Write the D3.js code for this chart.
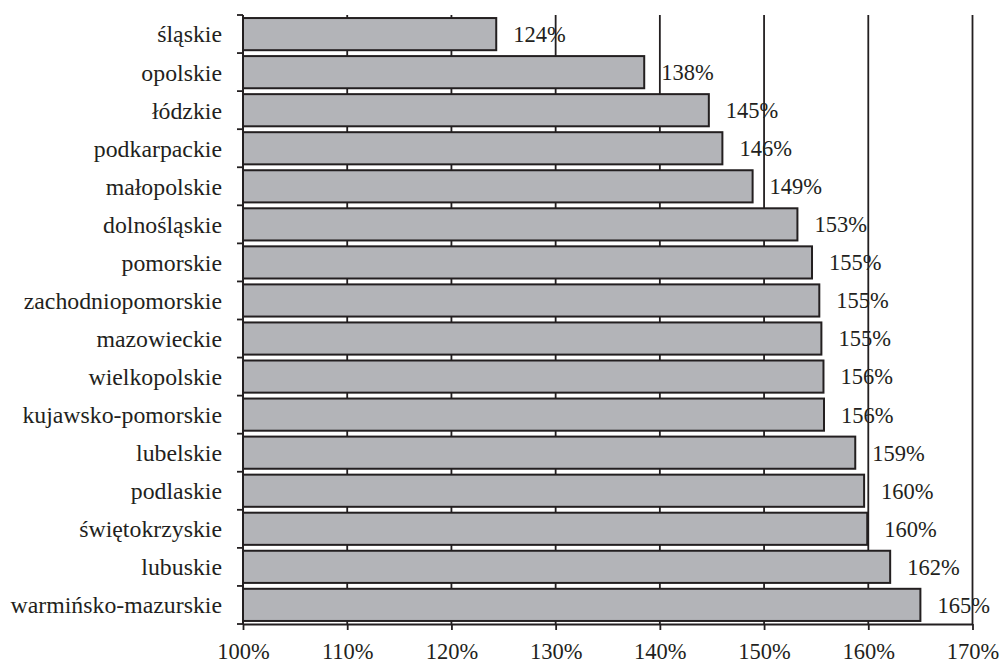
<!DOCTYPE html>
<html lang="pl">
<head>
<meta charset="UTF-8">
<title>Bar chart</title>
<style>
  body { margin: 0; background: #fff; }
  svg text { font-family: "Liberation Serif", "Times New Roman", serif; fill: #231f20; }
  .axis path, .axis line { stroke: #231f20; stroke-width: 1.8; }
  .grid line { stroke: #231f20; stroke-width: 1.8; }
  .bar { fill: #b3b4b8; stroke: #231f20; stroke-width: 2; }
</style>
<script src="https://d3js.org/d3.v7.min.js"></script>
</head>
<body>
<script>
  // regions, top to bottom
  const regions = ["śląskie", "opolskie", "łódzkie", "podkarpackie", "małopolskie",
    "dolnośląskie", "pomorskie", "zachodniopomorskie", "mazowieckie", "wielkopolskie",
    "kujawsko-pomorskie", "lubelskie", "podlaskie", "świętokrzyskie", "lubuskie",
    "warmińsko-mazurskie"];
  const values = [124.3, 138.5, 144.7, 146.0, 148.9, 153.2, 154.6, 155.3, 155.5, 155.7,
    155.75, 158.75, 159.6, 159.9, 162.1, 165.0];
  const valueLabels = ["124%", "138%", "145%", "146%", "149%", "153%", "155%", "155%",
    "155%", "156%", "156%", "159%", "160%", "160%", "162%", "165%"];
  const xTicks = [100, 110, 120, 130, 140, 150, 160, 170];

  const W = 1002, H = 663;
  const margin = { top: 15, right: 30, bottom: 39, left: 243 };
  const width = 972.5 - margin.left;
  const height = H - margin.top - margin.bottom;

  const svg = d3.select("body").append("svg")
    .attr("width", W).attr("height", H)
    .append("g")
    .attr("transform", `translate(${margin.left},${margin.top})`);

  const x = d3.scaleLinear().domain([100, 170]).range([0, width]);
  const y = d3.scaleBand().domain(regions).range([0, height])
    .paddingInner(0.155).paddingOuter(0.08);

  // vertical gridlines behind bars
  svg.append("g")
    .attr("class", "grid")
    .selectAll("line")
    .data(xTicks)
    .join("line")
    .attr("x1", d => x(d)).attr("x2", d => x(d))
    .attr("y1", 0).attr("y2", height);

  svg.selectAll(".bar")
    .data(regions)
    .join("rect")
    .attr("class", "bar")
    .attr("x", x(100))
    .attr("y", d => y(d))
    .attr("width", (d, i) => x(values[i]) - x(100))
    .attr("height", y.bandwidth());

  svg.selectAll(".val")
    .data(regions)
    .join("text")
    .attr("class", "val")
    .attr("x", (d, i) => x(values[i]) + 17)
    .attr("y", d => y(d) + y.bandwidth() / 2)
    .attr("dy", "0.35em")
    .style("font-size", "22.5px")
    .text((d, i) => valueLabels[i]);

  // x axis
  const xAxis = svg.append("g")
    .attr("class", "axis")
    .attr("transform", `translate(0,${height})`)
    .call(d3.axisBottom(x).tickValues(xTicks).tickFormat(d => d + "%")
      .tickSize(6).tickSizeOuter(0).tickPadding(13));
  xAxis.selectAll("text").style("font-size", "22.5px").attr("fill", "#231f20");

  // y axis: ticks at band boundaries
  const yAxis = svg.append("g").attr("class", "axis");
  yAxis.append("line").attr("x1", 0).attr("x2", 0).attr("y1", 0).attr("y2", height);
  const step = height / regions.length;
  yAxis.selectAll(".tk")
    .data(d3.range(regions.length + 1))
    .join("line")
    .attr("x1", -6).attr("x2", 0)
    .attr("y1", i => i * step).attr("y2", i => i * step);
  yAxis.selectAll(".lbl")
    .data(regions)
    .join("text")
    .attr("x", -21)
    .attr("y", d => y(d) + y.bandwidth() / 2)
    .attr("dy", "0.35em")
    .attr("text-anchor", "end")
    .style("font-size", "23.8px")
    .text(d => d);
</script>
</body>
</html>
